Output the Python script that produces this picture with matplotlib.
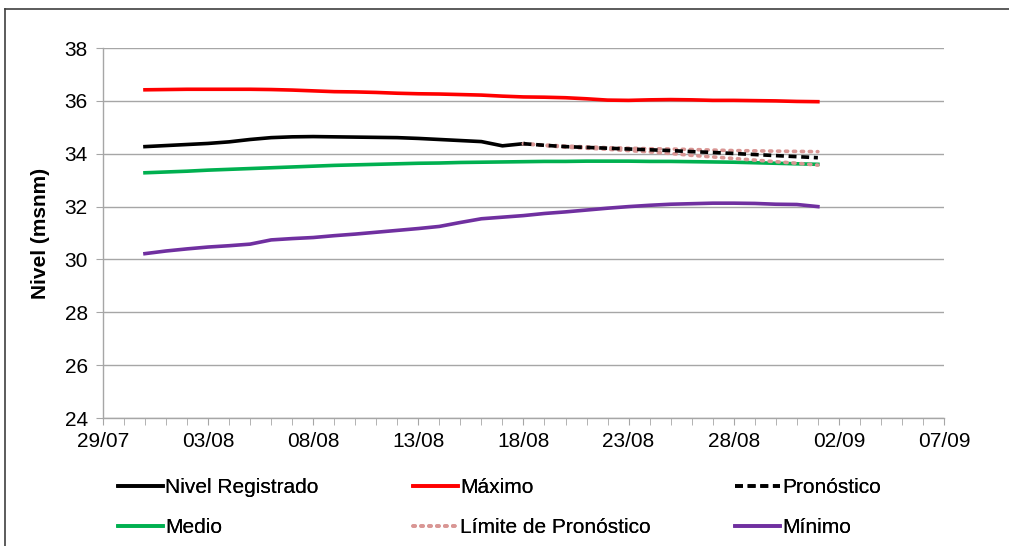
import datetime as dt
import matplotlib.pyplot as plt
import matplotlib.dates as mdates
from matplotlib.lines import Line2D

plt.rcParams["font.family"] = ["Liberation Sans", "DejaVu Sans"]
fontsize = 15

# daily values, 31/07 .. 01/09
start = dt.date(2013, 7, 31)
dates = [start + dt.timedelta(days=i) for i in range(33)]

maximo = [36.42, 36.43, 36.44, 36.44, 36.44, 36.44, 36.43, 36.41, 36.38, 36.35,
          36.34, 36.32, 36.29, 36.27, 36.26, 36.24, 36.22, 36.18, 36.15, 36.14,
          36.12, 36.08, 36.03, 36.02, 36.04, 36.05, 36.04, 36.02, 36.02, 36.01,
          36.00, 35.98, 35.97]
medio = [33.28, 33.31, 33.34, 33.38, 33.41, 33.44, 33.47, 33.50, 33.53, 33.56,
         33.58, 33.60, 33.62, 33.64, 33.65, 33.67, 33.68, 33.69, 33.70, 33.71,
         33.71, 33.72, 33.72, 33.72, 33.71, 33.71, 33.70, 33.69, 33.68, 33.66,
         33.64, 33.62, 33.60]
minimo = [30.22, 30.32, 30.40, 30.47, 30.52, 30.58, 30.74, 30.79, 30.83, 30.90,
          30.96, 31.03, 31.10, 31.17, 31.25, 31.40, 31.54, 31.60, 31.66, 31.74,
          31.80, 31.87, 31.94, 32.00, 32.05, 32.09, 32.11, 32.13, 32.13, 32.12,
          32.09, 32.08, 32.00]

# registered level 31/07 .. 18/08
nivel = [34.27, 34.31, 34.35, 34.39, 34.45, 34.54, 34.61, 34.64, 34.65, 34.64,
         34.63, 34.62, 34.61, 34.58, 34.54, 34.50, 34.46, 34.30, 34.38]

# forecast 18/08 .. 01/09
pronostico = [34.38, 34.32, 34.27, 34.24, 34.21, 34.18, 34.15, 34.12, 34.08,
              34.05, 34.01, 33.97, 33.93, 33.89, 33.85]
limite_sup = [34.38, 34.33, 34.29, 34.26, 34.23, 34.21, 34.19, 34.18, 34.16,
              34.14, 34.12, 34.11, 34.10, 34.09, 34.08]
limite_inf = [34.38, 34.31, 34.25, 34.21, 34.17, 34.12, 34.07, 34.01, 33.94,
              33.88, 33.82, 33.76, 33.70, 33.64, 33.57]

dates_nivel = dates[:len(nivel)]
dates_pron = dates[len(nivel) - 1:]

fig = plt.figure(figsize=(10.09, 5.46), dpi=100)
ax = fig.add_axes([0.102, 0.2344, 0.8336, 0.6776])

lw = 2.6
l_max, = ax.plot(dates, maximo, color="#ff0000", lw=lw, label="Máximo")
l_med, = ax.plot(dates, medio, color="#00b050", lw=lw, label="Medio")
l_min, = ax.plot(dates, minimo, color="#7030a0", lw=lw, label="Mínimo")
l_niv, = ax.plot(dates_nivel, nivel, color="black", lw=lw, label="Nivel Registrado")
l_lim, = ax.plot(dates_pron, limite_sup, color="#d99694", lw=lw,
                 ls=(0, (0.6, 1.6)), dash_capstyle="round",
                 label="Límite de Pronóstico")
ax.plot(dates_pron, limite_inf, color="#d99694", lw=lw,
        ls=(0, (0.6, 1.6)), dash_capstyle="round")
l_pro, = ax.plot(dates_pron, pronostico, color="black", lw=lw,
                 ls=(0, (2.2, 1.3)), label="Pronóstico")

ax.set_xlim(dt.date(2013, 7, 29), dt.date(2013, 9, 7))
ax.set_ylim(24, 38)
ax.set_yticks(range(24, 39, 2))
ax.set_xticks([dt.date(2013, 7, 29) + dt.timedelta(days=5 * i) for i in range(9)])
ax.xaxis.set_minor_locator(mdates.DayLocator())
ax.xaxis.set_major_formatter(mdates.DateFormatter("%d/%m"))

ax.grid(axis="y", color="#a6a6a6", lw=1)
ax.set_axisbelow(True)
for side in ["top", "right"]:
    ax.spines[side].set_visible(False)
for side in ["left", "bottom"]:
    ax.spines[side].set_color("#a6a6a6")
    ax.spines[side].set_linewidth(1)
ax.tick_params(which="both", color="#a6a6a6", length=5, labelsize=fontsize)
ax.tick_params(axis="y", pad=6)
ax.tick_params(axis="x", which="major", pad=5)
ax.set_ylabel("Nivel (msnm)", fontsize=fontsize, fontweight="bold", labelpad=10)

columns = [([l_niv, l_med], 118), ([l_max, l_lim], 413), ([l_pro, l_min], 735)]
for hs, xpx in columns:
    leg = fig.legend(hs, [h.get_label() for h in hs], loc="upper left",
                     bbox_to_anchor=(xpx / 1009, 1 - 478 / 546), frameon=False,
                     fontsize=fontsize, handlelength=2.15, handletextpad=0.1,
                     labelspacing=1.0, borderpad=0, borderaxespad=0)
    fig.add_artist(leg)

# chart border (only top and left are inside the picture)
fig.add_artist(Line2D([5 / 1009, 1], [1 - 9 / 546] * 2, transform=fig.transFigure,
                      color="#404040", lw=1.2))
fig.add_artist(Line2D([5 / 1009] * 2, [0, 1 - 9 / 546], transform=fig.transFigure,
                      color="#404040", lw=1.2))

fig.savefig("out.png", dpi=100)
